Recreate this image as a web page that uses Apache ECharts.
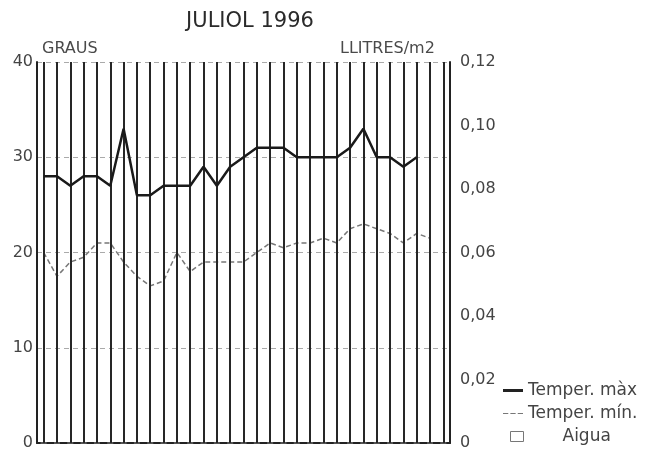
<!DOCTYPE html>
<html>
<head>
<meta charset="utf-8">
<script src="https://cdn.jsdelivr.net/npm/echarts@6/dist/echarts.min.js"></script>
<style>html,body{margin:0;padding:0;background:#fff;}#c{width:658px;height:451px;}</style>
</head>
<body>
<div id="c"></div>
<script>
var days = ['1','2','3','4','5','6','7','8','9','10','11','12','13','14','15','16','17','18','19','20','21','22','23','24','25','26','27','28','29','30','31'];
var tempMax = [28, 28, 27, 28, 28, 27, 33, 26, 26, 27, 27, 27, 29, 27, 29, 30, 31, 31, 31, 30, 30, 30, 30, 31, 33, 30, 30, 29, 30, null, null];
var tempMin = [20, 17.5, 19, 19.5, 21, 21, 19, 17.5, 16.5, 17, 20, 18, 19, 19, 19, 19, 20, 21, 20.5, 21, 21, 21.5, 21, 22.5, 23, 22.5, 22, 21, 22, 21.5, null];
var aigua = [0,0,0,0,0,0,0,0,0,0,0,0,0,0,0,0,0,0,0,0,0,0,0,0,0,0,0,0,0,0,0];
var leftTicks = {min: 0, max: 40, interval: 10};
var rightTicks = {min: 0, max: 0.12, interval: 0.02};

var FONT = 'DejaVu Sans';
var chart = echarts.init(document.getElementById('c'));
chart.setOption({
  animation: false,
  backgroundColor: '#fff',
  textStyle: {fontFamily: FONT, color: '#333'},
  title: [
    {text: 'JULIOL 1996', left: 245, top: 6, textAlign: 'center',
     textStyle: {fontFamily: FONT, fontSize: 21, fontWeight: 'normal', color: '#2a2a2a'}},
    {text: 'GRAUS', left: 37, top: 36,
     textStyle: {fontFamily: FONT, fontSize: 16, fontWeight: 'normal', color: '#4a4a4a'}},
    {text: 'LLITRES/m2', left: 335, top: 36,
     textStyle: {fontFamily: FONT, fontSize: 16, fontWeight: 'normal', color: '#4a4a4a'}}
  ],
  grid: {left: 37, right: 208, top: 62, bottom: 7},
  legend: [
    {data: [{name: 'Temper. màx', icon: 'rect', itemStyle: {color: '#222'}}],
     left: 498, top: 377, itemWidth: 20, itemHeight: 3, itemGap: 4,
     textStyle: {fontFamily: FONT, fontSize: 17, color: '#444'}},
    {data: [{name: 'Temper. mín.', icon: 'path://M0,0h5v1h-5z M7,0h5v1h-5z M14,0h5v1h-5z', itemStyle: {color: '#777'}}],
     left: 498, top: 400, itemWidth: 20, itemHeight: 2, itemGap: 4,
     textStyle: {fontFamily: FONT, fontSize: 17, color: '#444'}},
    {data: [{name: 'Aigua', icon: 'rect', itemStyle: {color: 'transparent', borderColor: '#777', borderWidth: 1}}],
     left: 505, top: 423, itemWidth: 13, itemHeight: 10, itemGap: 4,
     textStyle: {fontFamily: FONT, fontSize: 17, color: '#444', padding: [0, 0, 0, 34]}}
  ],
  xAxis: {
    type: 'category', data: days, boundaryGap: true,
    axisLine: {lineStyle: {color: '#222', width: 2}},
    axisTick: {show: false}, axisLabel: {show: false}, splitLine: {show: false}
  },
  yAxis: [
    {type: 'value', min: leftTicks.min, max: leftTicks.max, interval: leftTicks.interval,
     axisLine: {show: true, lineStyle: {color: '#222', width: 2}},
     axisTick: {show: false},
     axisLabel: {fontFamily: FONT, fontSize: 16, color: '#444', margin: 4},
     splitLine: {show: true, lineStyle: {color: '#aaa', type: [5, 4], width: 1}}},
    {type: 'value', min: rightTicks.min, max: rightTicks.max, interval: rightTicks.interval,
     position: 'right',
     axisLine: {show: true, lineStyle: {color: '#222', width: 2}},
     axisTick: {show: false},
     axisLabel: {fontFamily: FONT, fontSize: 16, color: '#444', margin: 10,
       formatter: function (v) { return v === 0 ? '0' : v.toFixed(2).replace('.', ','); }},
     splitLine: {show: false}}
  ],
  series: [
    {name: 'Aigua', type: 'bar', yAxisIndex: 1, data: aigua, barWidth: 6,
     itemStyle: {color: 'transparent', borderColor: '#666', borderWidth: 1},
     markLine: {silent: true, symbol: ['none', 'none'], label: {show: false},
       lineStyle: {color: '#262626', width: 2, type: 'solid'},
       data: days.map(function (d) { return {xAxis: d}; })}},
    {name: 'Temper. mín.', type: 'line', data: tempMin, showSymbol: false, symbol: 'none',
     lineStyle: {color: '#777', width: 1.5, type: [5, 3]}, itemStyle: {color: '#777'}, z: 4},
    {name: 'Temper. màx', type: 'line', data: tempMax, showSymbol: false, symbol: 'none',
     lineStyle: {color: '#1a1a1a', width: 2.5}, itemStyle: {color: '#222'}, z: 5}
  ]
});
</script>
</body>
</html>
